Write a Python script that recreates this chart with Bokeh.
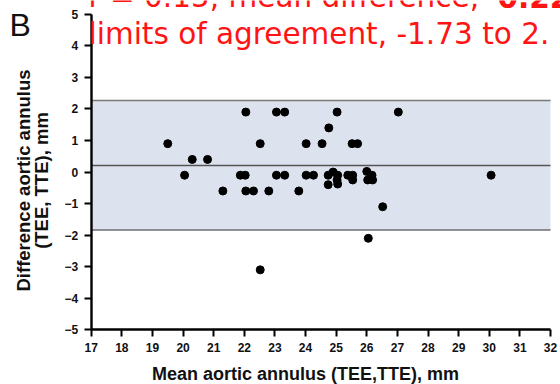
import math
from bokeh.plotting import figure
from bokeh.models import (BoxAnnotation, Label, SingleIntervalTicker, Range1d,
                          LinearAxis)
from bokeh.embed import file_html
from bokeh.resources import INLINE

# ---- data ----
mean_annulus = [19.5, 20.05, 20.3, 20.8, 21.3, 21.87, 22.03, 22.05, 22.05, 22.3,
                22.52, 22.8, 23.05, 23.32, 23.05, 23.32, 23.78, 24.02, 24.02, 24.26,
                24.54, 24.76, 25.03, 24.74, 24.9, 25.05, 25.03, 25.05, 24.74, 25.38,
                25.54, 25.54, 25.52, 25.7, 26.0, 26.17, 26.03, 26.19, 26.52, 26.05,
                27.03, 30.06, 22.52]
diff_annulus = [0.9, -0.1, 0.4, 0.4, -0.6, -0.1, -0.1, 1.9, -0.6, -0.6,
                0.9, -0.6, 1.9, 1.9, -0.1, -0.1, -0.6, 0.9, -0.1, -0.1,
                0.9, 1.4, 1.9, -0.1, 0.0, -0.1, -0.25, -0.38, -0.4, -0.1,
                -0.1, -0.25, 0.9, 0.9, 0.02, -0.1, -0.25, -0.25, -1.1, -2.1,
                1.9, -0.1, -3.1]
mean_difference = 0.21
loa_lower = -1.84
loa_upper = 2.27
x_axis_range = (17, 32)
y_axis_range = (-5, 5)
line1_text = "r = 0.15, mean difference,"
line1_bold = "0.22"
line2_text = "limits of agreement, -1.73 to 2."
panel_letter = "B"
x_label = "Mean aortic annulus (TEE,TTE), mm"
y_label_lines = ["Difference aortic annulus", "(TEE, TTE), mm"]

# ---- layout: the frame covers the whole canvas, axes are pinned inside ----
W, H = 560, 384
ax_left_px, ax_right_px = 90.7, 550.0
ax_top_px, ax_bottom_px = 13.8, 329.3
sx = (ax_right_px - ax_left_px) / (x_axis_range[1] - x_axis_range[0])
sy = (ax_bottom_px - ax_top_px) / (y_axis_range[1] - y_axis_range[0])
xr0 = x_axis_range[0] - ax_left_px / sx
xr1 = x_axis_range[1] + (W - ax_right_px) / sx
yr1 = y_axis_range[1] + ax_top_px / sy
yr0 = y_axis_range[0] - (H - ax_bottom_px) / sy


def px2x(px):
    return xr0 + px / sx


def px2y(py):
    return yr1 - py / sy


p = figure(width=W, height=H, output_backend="svg", toolbar_location=None,
           x_range=Range1d(xr0, xr1), y_range=Range1d(yr0, yr1),
           min_border=0, x_axis_location=None, y_axis_location=None)
p.outline_line_color = None
p.grid.visible = False
p.background_fill_color = "white"
p.border_fill_color = "white"

band = BoxAnnotation(left=x_axis_range[0], right=x_axis_range[1],
                     bottom=loa_lower, top=loa_upper, fill_color="#dde3ee",
                     fill_alpha=1.0, line_color=None, level="underlay")
p.add_layout(band)

ref_lines = [loa_lower, loa_upper, mean_difference]
p.segment(x0=[x_axis_range[0]] * 3, x1=[x_axis_range[1]] * 3,
          y0=ref_lines, y1=ref_lines,
          line_color=["#6e6e6e", "#7a7a7a", "#555555"], line_width=1.5)

p.scatter(mean_annulus, diff_annulus, size=8, color="black")

xaxis = LinearAxis(fixed_location=y_axis_range[0], bounds=x_axis_range,
                   ticker=SingleIntervalTicker(interval=1))
yaxis = LinearAxis(fixed_location=x_axis_range[0], bounds=y_axis_range,
                   ticker=SingleIntervalTicker(interval=1))
for ax in (xaxis, yaxis):
    ax.axis_line_width = 2.4
    ax.axis_line_color = "black"
    ax.major_tick_line_width = 2
    ax.major_tick_out = 7
    ax.major_tick_in = 0
    ax.minor_tick_line_color = None
    ax.major_label_text_font = "Liberation Sans"
    ax.major_label_text_font_style = "bold"
    ax.major_label_text_font_size = "12px"
    ax.major_label_text_color = "#111111"
    ax.major_label_standoff = 6
p.add_layout(xaxis, "below")
p.add_layout(yaxis, "left")

MID = 0.36  # em distance from baseline up to the text middle


def mid_from_baseline(baseline_px, size):
    return baseline_px - MID * size


# axis titles
p.add_layout(Label(x=px2x(305), y=px2y(mid_from_baseline(380, 18)), text=x_label,
                   text_align="center", text_baseline="middle",
                   text_font="Liberation Sans", text_font_style="bold",
                   text_font_size="18px", text_color="#111111"))
for txt, bx in zip(y_label_lines, (30, 48)):
    p.add_layout(Label(x=px2x(bx - MID * 18.5), y=px2y(180), text=txt,
                       angle=math.pi / 2, text_align="center",
                       text_baseline="middle", text_font="Liberation Sans",
                       text_font_style="bold", text_font_size="18.5px",
                       text_color="#111111"))

# red header text, partly cut by the top/right edges as in the reference
red = "#ff1414"
hs = 29.5
p.add_layout(Label(x=px2x(88), y=px2y(mid_from_baseline(7, hs)), text=line1_text,
                   text_color=red, text_font="DejaVu Sans",
                   text_font_size=f"{hs}px", text_baseline="middle"))
p.add_layout(Label(x=px2x(497), y=px2y(mid_from_baseline(7, hs)), text=line1_bold,
                   text_color=red, text_font="DejaVu Sans",
                   text_font_style="bold", text_font_size=f"{hs}px",
                   text_baseline="middle"))
p.add_layout(Label(x=px2x(88), y=px2y(mid_from_baseline(44.3, hs)),
                   text=line2_text, text_color=red, text_font="DejaVu Sans",
                   text_font_size=f"{hs}px", text_baseline="middle"))
p.add_layout(Label(x=px2x(9), y=px2y(mid_from_baseline(36, 32)), text=panel_letter,
                   text_color="#111111", text_font="Liberation Sans",
                   text_font_size="32px", text_baseline="middle"))

open("out.html", "w").write(file_html(p, INLINE))
